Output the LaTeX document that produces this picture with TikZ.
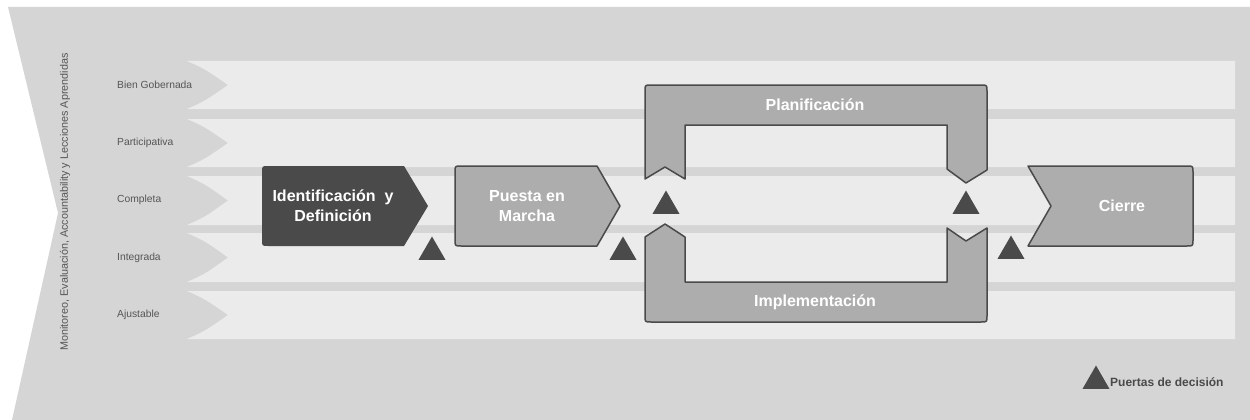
\documentclass[tikz,border=0pt]{standalone}
\usepackage{fontspec}
\setmainfont{Liberation Sans}
\usetikzlibrary{shapes.geometric}
\definecolor{bggray}{HTML}{D5D5D5}
\definecolor{bandgray}{HTML}{EBEBEB}
\definecolor{darkgray}{HTML}{4A4A4A}
\definecolor{midgray}{HTML}{ADADAD}
\definecolor{labelgray}{HTML}{555555}
\tikzset{
  rowlabel/.style={anchor=west, inner sep=0pt, text=labelgray, font=\fontsize{10.3}{12}\selectfont},
  boxtext/.style={align=center, inner sep=0pt, text=white, font=\fontsize{16}{20}\selectfont\bfseries},
  phase/.style={fill=midgray, draw=darkgray, line width=1.5pt, line join=round},
  gate/.style={regular polygon, regular polygon sides=3, minimum size=31pt, inner sep=0pt, fill=darkgray},
}
\begin{document}
\begin{tikzpicture}[x=1pt, y=-1pt]
\useasboundingbox (0,0) rectangle (1250,420);
% backdrop with the notched left edge
\fill[bggray] (8,7) -- (1250,7) -- (1250,420) -- (12,420) -- (58,213) -- cycle;
% horizontal bands with notched left ends
\foreach \t/\b in {61/109, 119/167, 176/225, 233/282, 291/339}{
  \fill[bandgray] (187,\t) .. controls (205,{\t+8}) .. (228,{(\t+\b)/2})
    .. controls (205,{\b-8}) .. (187,\b) -- (1235,\b) -- (1235,\t) -- cycle;
}
% band labels
\node[rowlabel] (r1) at (117,85) {Bien Gobernada};
\node[rowlabel] (r2) at (117,143) {Participativa};
\node[rowlabel] (r3) at (117,200) {Completa};
\node[rowlabel] (r4) at (117,258) {Integrada};
\node[rowlabel] (r5) at (117,315) {Ajustable};
% vertical caption
\node[rotate=90, inner sep=0pt, text=labelgray, font=\fontsize{10.8}{12}\selectfont] (mon) at (65,202)
  {Monitoreo, Evaluación, Accountability y Lecciones Aprendidas};
% Identificación y Definición
\fill[darkgray] (404,166) -- (428,206) -- (404,246) -- (268,246)
  .. controls (262,246) .. (262,240) -- (262,172) .. controls (262,166) .. (268,166) -- cycle;
\node[boxtext] (ident) at (333,206) {Identificación\ \ y\\Definición};
% Puesta en Marcha
\path[phase] (597,166) -- (620,206) -- (597,246) -- (461,246)
  .. controls (455,246) .. (455,240) -- (455,172) .. controls (455,166) .. (461,166) -- cycle;
\node[boxtext] (puesta) at (527,206) {Puesta en\\Marcha};
% Planificación (upper arm of the loop)
\path[phase] (645,179) -- (645,91) .. controls (645,85) .. (651,85) -- (981,85)
  .. controls (987,85) .. (987,91) -- (987,170) -- (966,183) -- (947,169)
  -- (947,125) -- (685,125) -- (685,179) -- (665,167) -- cycle;
\node[boxtext] (plan) at (815,105) {Planificación};
% Implementación (lower arm of the loop)
\path[phase] (645,237) -- (665,224) -- (685,237) -- (685,282) -- (947,282)
  -- (947,228) -- (966,241) -- (987,228) -- (987,316) .. controls (987,322) .. (981,322)
  -- (651,322) .. controls (645,322) .. (645,316) -- cycle;
\node[boxtext] (impl) at (815,302) {Implementación};
% Cierre
\path[phase] (1028,166) -- (1187,166) .. controls (1193,166) .. (1193,172) -- (1193,240)
  .. controls (1193,246) .. (1187,246) -- (1028,246) -- (1051,206) -- cycle;
\node[boxtext] (cierre) at (1122,206) {Cierre};
% decision gates
\node[gate] (g1) at (432,252) {};
\node[gate] (g2) at (623,252) {};
\node[gate] (g3) at (666,206) {};
\node[gate] (g4) at (966,206) {};
\node[gate] (g5) at (1011,251) {};
% legend
\node[gate] (lg) at (1096,381) {};
\node[anchor=west, inner sep=0pt, text=darkgray, font=\fontsize{12}{14}\selectfont\bfseries] (lgtext) at (1110,382) {Puertas de decisión};
\end{tikzpicture}
\end{document}
